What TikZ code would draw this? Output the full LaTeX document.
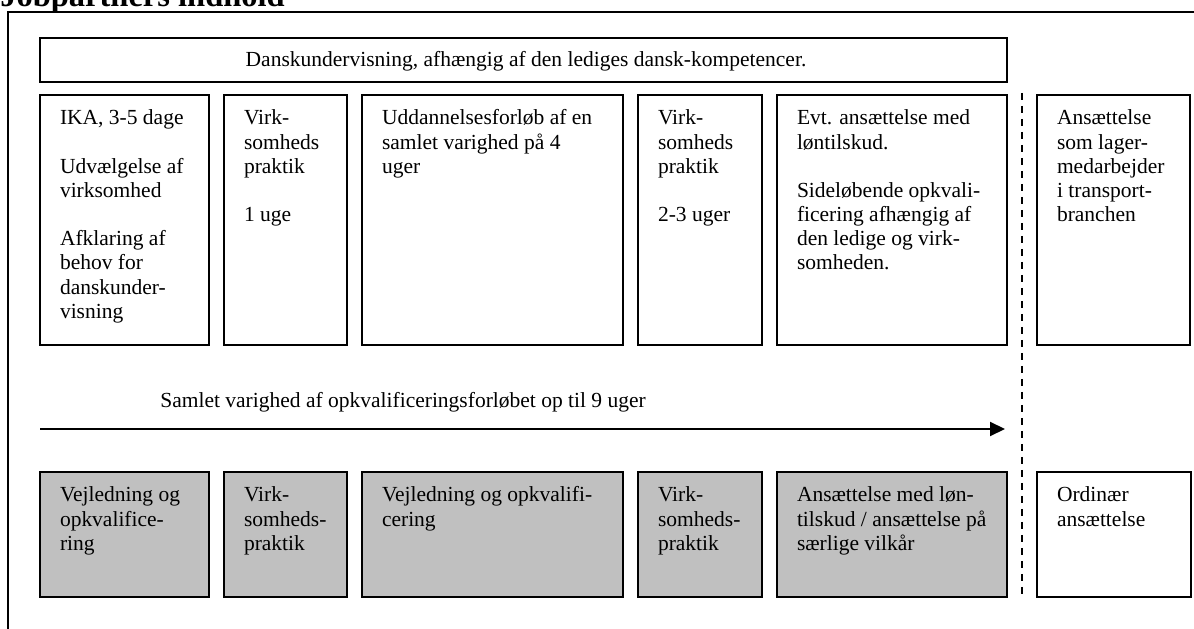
\documentclass[tikz,border=0pt]{standalone}
\usepackage{fontspec}
\setmainfont{Liberation Serif}
\usetikzlibrary{arrows.meta,calc}
\definecolor{silverfill}{RGB}{192,192,192}
\begin{document}
\begin{tikzpicture}[x=0.6pt,y=-0.6pt,
  box/.style={draw=black, line width=1.2pt, anchor=north west, inner sep=0pt, outer sep=0pt},
  graybox/.style={box, fill=silverfill},
  txt/.style={anchor=north west, inner sep=0pt, outer sep=0pt, align=left, font=\fontsize{12.9}{14.5}\selectfont},
  lbl/.style={inner sep=0pt, font=\fontsize{12.9}{14.5}\selectfont},
  frame/.style={line width=1.2pt},
]
\useasboundingbox (0,0) rectangle (1194,629);
\clip (0,0) rectangle (1194,629);

% title (clipped at the top edge, as in the reference)
\node[anchor=base west, inner sep=0pt, font=\bfseries\fontsize{19.5}{20}\selectfont] (title) at (0,7) {Jobpartners indhold};

% outer frame (top and left side)
\coordinate (fbl) at (8,629);
\coordinate (ftl) at (8,12);
\coordinate (ftr) at (1194,12);
\draw[frame] (fbl) -- (ftl) -- (ftr);

% top bar
\node[box, minimum width=967*0.6pt, minimum height=44*0.6pt] (dk) at (40,38) {};
\node[lbl, anchor=base] (dkt) at (526,67) {Danskundervisning, afhængig af den lediges dansk-kompetencer.};

% first row
\node[box, minimum width=169*0.6pt, minimum height=250*0.6pt] (a1) at (40,95) {};
\node[box, minimum width=123*0.6pt, minimum height=250*0.6pt] (a2) at (224,95) {};
\node[box, minimum width=261*0.6pt, minimum height=250*0.6pt] (a3) at (362,95) {};
\node[box, minimum width=124*0.6pt, minimum height=250*0.6pt] (a4) at (638,95) {};
\node[box, minimum width=230*0.6pt, minimum height=250*0.6pt] (a5) at (777,95) {};
\node[box, minimum width=153*0.6pt, minimum height=250*0.6pt] (a6) at (1037,95) {};

\node[txt] (ta1) at ($(a1.north west)+(20,13)$) {\strut IKA, 3-5 dage\\[14.5pt]Udvælgelse af\\virksomhed\\[14.5pt]Afklaring af\\behov for\\danskunder-\\visning};
\node[txt] (ta2) at ($(a2.north west)+(20,13)$) {\strut Virk-\\somheds\\praktik\\[14.5pt]1 uge};
\node[txt] (ta3) at ($(a3.north west)+(20,13)$) {\strut Uddannelsesforløb af en\\samlet varighed på 4\\uger};
\node[txt] (ta4) at ($(a4.north west)+(20,13)$) {\strut Virk-\\somheds\\praktik\\[14.5pt]2-3 uger};
\node[txt] (ta5) at ($(a5.north west)+(20,13)$) {\strut Evt. ansættelse med\\løntilskud.\\[14.5pt]Sideløbende opkvali-\\ficering afhængig af\\den ledige og virk-\\somheden.};
\node[txt] (ta6) at ($(a6.north west)+(20,13)$) {\strut Ansættelse\\som lager-\\medarbejder\\i transport-\\branchen};

% dashed divider
\coordinate (dtop) at (1022,93);
\coordinate (dbot) at (1022,597);
\draw[line width=1.1pt, dash pattern=on 4.2pt off 3.6pt] (dtop) -- (dbot);

% duration arrow
\coordinate (arrS) at (40,429);
\coordinate (arrE) at (1005,429);
\draw[line width=1.2pt, -{Triangle[length=9pt,width=8.4pt]}] (arrS) -- (arrE);
\node[lbl, anchor=base west] (arrl) at (160,408) {Samlet varighed af opkvalificeringsforløbet op til 9 uger};

% second row
\node[graybox, minimum width=169*0.6pt, minimum height=125*0.6pt] (g1) at (40,472) {};
\node[graybox, minimum width=123*0.6pt, minimum height=125*0.6pt] (g2) at (224,472) {};
\node[graybox, minimum width=261*0.6pt, minimum height=125*0.6pt] (g3) at (362,472) {};
\node[graybox, minimum width=124*0.6pt, minimum height=125*0.6pt] (g4) at (638,472) {};
\node[graybox, minimum width=230*0.6pt, minimum height=125*0.6pt] (g5) at (777,472) {};
\node[box, minimum width=154*0.6pt, minimum height=125*0.6pt] (g6) at (1037,472) {};

\node[txt] (tg1) at ($(g1.north west)+(20,13)$) {\strut Vejledning og\\opkvalifice-\\ring};
\node[txt] (tg2) at ($(g2.north west)+(20,13)$) {\strut Virk-\\somheds-\\praktik};
\node[txt] (tg3) at ($(g3.north west)+(20,13)$) {\strut Vejledning og opkvalifi-\\cering};
\node[txt] (tg4) at ($(g4.north west)+(20,13)$) {\strut Virk-\\somheds-\\praktik};
\node[txt] (tg5) at ($(g5.north west)+(20,13)$) {\strut Ansættelse med løn-\\tilskud / ansættelse på\\særlige vilkår};
\node[txt] (tg6) at ($(g6.north west)+(20,13)$) {\strut Ordinær\\ansættelse};
\end{tikzpicture}
\end{document}
